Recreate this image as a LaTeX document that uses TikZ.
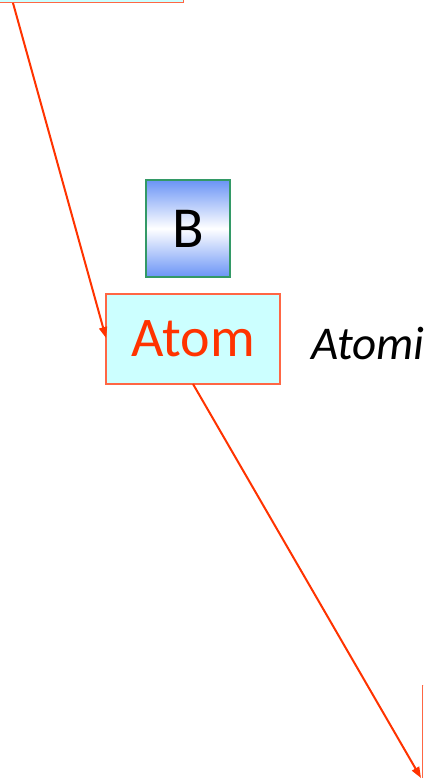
\documentclass[tikz,border=0pt]{standalone}
\usepackage{fontspec}
\setmainfont{Carlito}
\usetikzlibrary{arrows.meta}
\definecolor{lnred}{HTML}{FF3300}
\definecolor{bxred}{HTML}{FF6644}
\definecolor{bxfill}{HTML}{CCFFFF}
\definecolor{bgreen}{HTML}{339966}
\definecolor{bblue}{HTML}{6A94F6}
\tikzset{
  redbox/.style={draw=bxred, line width=1.2pt, fill=bxfill, inner sep=0pt},
  conn/.style={draw=lnred, line width=2pt, -{Triangle[length=11pt,width=8pt]}},
}
\begin{document}
\begin{tikzpicture}[x=1pt,y=-1pt]
\useasboundingbox (0,0) rectangle (423,778);
\clip (0,0) rectangle (423,778);
% top box (cut off)
\node[redbox, minimum width=240pt, minimum height=60pt, anchor=south east] (top) at (184,3) {};
% bottom box (cut off)
\node[redbox, minimum width=120pt, minimum height=120pt, anchor=north west] (bot) at (421.5,685) {};
% B box
\shade[top color=bblue, bottom color=bblue, middle color=white] (146,180) rectangle (230,277);
\node[draw=bgreen, line width=1.2pt, minimum width=84pt, minimum height=97pt, inner sep=0pt,
  font=\fontsize{58}{60}\selectfont] (B) at (188,228.5) {B};
% Atom box
\node[redbox, minimum width=174pt, minimum height=90pt, text=lnred,
  font=\fontsize{56}{60}\selectfont] (atom) at (193,339) {Atom};
% Atomi text
\node[anchor=base west, inner sep=0pt, font=\fontsize{47}{50}\itshape] (lab) at (311,359) {Atomi};
% connectors
\coordinate (s1) at (13,3);
\coordinate (e1) at (106,338);
\coordinate (s2) at (193,384);
\coordinate (e2) at (421,778);
\draw[conn] (s1) -- (e1);
\draw[conn] (s2) -- (e2);
\end{tikzpicture}
\end{document}
